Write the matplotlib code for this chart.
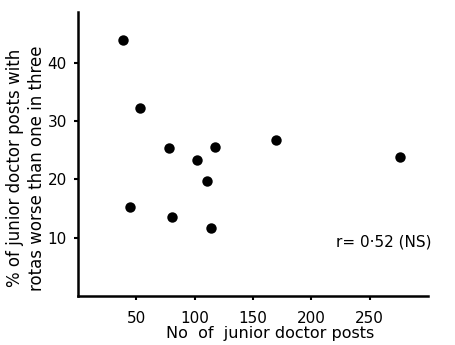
import matplotlib
matplotlib.use('Agg')
import matplotlib.pyplot as plt

# values
posts = [38.7, 52.9, 77.9, 117.7, 101.8, 110.6, 169.4, 276.2, 44.7, 80.5, 114.2]
pct_worse = [43.9, 32.3, 25.4, 25.5, 23.3, 19.8, 26.8, 23.8, 15.2, 13.6, 11.6]
x_ticks = [50, 100, 150, 200, 250]
y_ticks = [10, 20, 30, 40]

plt.rcParams['font.family'] = 'DejaVu Sans'

fig = plt.figure(figsize=(4.55, 3.45), dpi=100)
ax = fig.add_axes([0.171, 0.142, 0.770, 0.823])

ax.plot(posts, pct_worse, 'o', color='black', markersize=7.5, markeredgewidth=0)

ax.set_xlim(0, 300)
ax.set_ylim(0, 48.7)
ax.set_xticks(x_ticks)
ax.set_yticks(y_ticks)
ax.tick_params(direction='out', length=3, width=1.5, labelsize=11)
ax.tick_params(axis='x', pad=8)
ax.tick_params(axis='y', pad=5)

for side in ['top', 'right']:
    ax.spines[side].set_visible(False)
for side in ['left', 'bottom']:
    ax.spines[side].set_linewidth(1.8)

ax.set_xlabel('No  of  junior doctor posts', fontsize=11.5)
ax.xaxis.set_label_coords(0.55, -0.105)
ax.set_ylabel('% of junior doctor posts with\nrotas worse than one in three',
              fontsize=12, linespacing=1.3)
ax.yaxis.set_label_coords(-0.09, 0.45)

ax.text(1.01, 0.19, 'r= 0·52 (NS)', transform=ax.transAxes,
        ha='right', va='center', fontsize=11)

fig.savefig('out.png', dpi=100)
